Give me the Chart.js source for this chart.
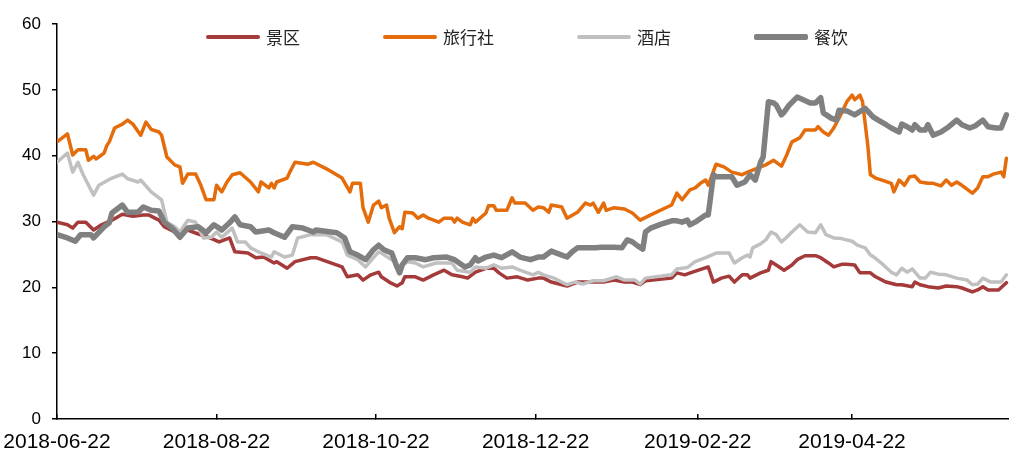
<!DOCTYPE html>
<html>
<head>
<meta charset="utf-8">
<title>景区 旅行社 酒店 餐饮</title>
<script src="https://cdn.jsdelivr.net/npm/chart.js@4"></script>
<style>
    body {
        margin: 0;
        background: #fff;
    }
    .wrap {
        position: relative;
        width: 1009px;
        height: 450px;
    }
    .legend {
        position: absolute;
        left: 206px;
        top: 25px;
        display: flex;
        gap: 83px;
        font-family: 'Noto Sans CJK SC', sans-serif;
        font-size: 17px;
        line-height: 24px;
        color: #222;
    }
    .legend-item {
        display: flex;
        align-items: center;
    }
    .legend-line {
        width: 54px;
        margin-right: 6px;
        border-radius: 2px;
    }
</style>
</head>
<body>
<div class="wrap">
    <canvas id="chart" width="1009" height="450"></canvas>
    <div class="legend" id="legend"></div>
</div>
<script>
// x values are days since startDate
const startDate = '2018-06-22';
const endDay = 364;
const tickDates = ['2018-06-22', '2018-08-22', '2018-10-22', '2018-12-22', '2019-02-22', '2019-04-22'];

const seriesNames = ['景区', '旅行社', '酒店', '餐饮'];
const seriesColors = ['#A53A3B', '#E46C0A', '#C0C0C0', '#808080'];
const seriesWidths = [3.5, 3.5, 3.5, 5.5];

// 景区
const scenicDays = [0, 4, 6, 8, 11, 14, 17, 21, 25, 29, 33, 35, 39, 41, 45, 48, 50, 54, 58, 62,
    66, 68, 73, 76, 79, 83, 84, 88, 91, 97, 99, 109, 111, 115, 117, 120, 123, 124, 127, 130,
    132, 133, 137, 140, 144, 148, 151, 155, 157, 160, 164, 167, 169, 172, 176, 180, 184, 186, 189, 195,
    199, 205, 209, 213, 217, 220, 223, 225, 235, 237, 240, 243, 249, 251, 254, 257, 259, 262, 264, 265,
    269, 272, 273, 275, 278, 281, 283, 286, 290, 292, 295, 297, 300, 302, 305, 307, 311, 313, 317, 321,
    323, 327, 328, 330, 333, 337, 340, 344, 346, 350, 352, 354, 356, 360, 363];
const scenicValues = [29.9, 29.5, 29.0, 29.9, 29.9, 28.7, 29.5, 30.2, 31.1, 30.8, 31.0, 31.0, 30.2, 29.2, 28.4, 28.3, 28.7, 28.1, 27.6, 26.9,
    27.5, 25.4, 25.2, 24.5, 24.6, 23.7, 23.9, 22.9, 23.9, 24.5, 24.5, 23.1, 21.6, 21.9, 21.1, 21.9, 22.3, 21.6, 20.8, 20.2,
    20.7, 21.6, 21.6, 21.1, 21.9, 22.6, 21.9, 21.6, 21.4, 22.3, 22.9, 22.9, 22.2, 21.4, 21.6, 21.1, 21.4, 21.4, 20.8, 20.2,
    20.8, 20.8, 20.8, 21.1, 20.8, 20.8, 20.4, 21.0, 21.4, 22.2, 21.9, 22.3, 23.1, 20.8, 21.4, 21.7, 20.8, 21.9, 21.9, 21.4,
    22.2, 22.6, 23.9, 23.4, 22.6, 23.4, 24.2, 24.8, 24.8, 24.5, 23.7, 23.1, 23.5, 23.5, 23.4, 22.2, 22.2, 21.6, 20.8, 20.4,
    20.4, 20.1, 20.8, 20.4, 20.1, 19.9, 20.2, 20.1, 19.9, 19.3, 19.6, 20.1, 19.6, 19.6, 20.7];

// 旅行社
const travelDays = [0, 4, 6, 8, 11, 12, 14, 15, 18, 19, 20, 22, 25, 27, 29, 32, 34, 36, 39, 40,
    42, 45, 47, 48, 50, 53, 55, 57, 60, 61, 63, 65, 67, 70, 74, 77, 78, 81, 82, 83,
    84, 88, 89, 91, 96, 98, 104, 109, 112, 113, 116, 117, 119, 121, 123, 124, 126, 127, 129, 131,
    132, 133, 136, 138, 140, 142, 146, 148, 151, 152, 153, 155, 158, 159, 160, 164, 165, 167, 168, 172,
    174, 175, 179, 182, 184, 186, 188, 189, 193, 195, 199, 202, 204, 205, 207, 209, 210, 213, 217, 220,
    223, 227, 235, 237, 239, 242, 244, 246, 248, 249, 252, 255, 258, 262, 264, 266, 269, 271, 274, 277,
    279, 281, 284, 286, 290, 291, 293, 295, 297, 299, 300, 302, 304, 305, 307, 308, 310, 311, 313, 316,
    319, 320, 322, 324, 326, 328, 330, 333, 335, 338, 340, 342, 344, 346, 350, 352, 354, 356, 358, 361,
    362, 363];
const travelValues = [42.1, 43.3, 40.1, 40.9, 40.9, 39.3, 39.9, 39.5, 40.4, 41.5, 42.1, 44.2, 44.8, 45.4, 44.8, 43.1, 45.1, 44.0, 43.6, 43.1,
    39.8, 38.6, 38.3, 35.8, 37.2, 37.2, 35.5, 33.3, 33.3, 35.5, 34.5, 36.0, 37.1, 37.4, 36.0, 34.5, 36.0, 35.1, 35.8, 35.1,
    36.0, 36.6, 37.5, 39.0, 38.7, 39.0, 37.8, 36.6, 34.5, 35.8, 35.8, 32.1, 29.9, 32.5, 33.1, 32.1, 32.5, 30.5, 28.3, 29.2,
    28.9, 31.4, 31.3, 30.5, 31.0, 30.5, 29.9, 30.5, 30.5, 29.9, 30.5, 29.9, 29.5, 30.5, 29.9, 31.3, 32.4, 32.4, 31.7, 31.7,
    33.6, 32.8, 32.8, 31.7, 32.2, 32.1, 31.4, 32.5, 32.2, 30.5, 31.4, 32.8, 32.5, 32.8, 31.4, 32.8, 31.7, 32.1, 31.9, 31.3,
    30.2, 31.0, 32.5, 34.3, 33.3, 34.8, 35.1, 35.8, 36.3, 35.5, 38.7, 38.3, 37.5, 37.1, 37.5, 37.8, 38.3, 38.6, 39.3, 38.4,
    40.1, 42.1, 42.7, 43.9, 43.9, 44.4, 43.6, 43.1, 44.2, 45.7, 46.5, 48.2, 49.2, 48.5, 49.2, 48.2, 41.6, 37.1, 36.6, 36.2,
    35.8, 34.5, 36.3, 35.5, 36.8, 36.9, 36.0, 35.8, 35.8, 35.4, 36.3, 35.5, 36.0, 35.5, 34.3, 35.1, 36.8, 36.8, 37.2, 37.5,
    36.8, 39.6];

// 酒店
const hotelDays = [0, 4, 6, 8, 10, 14, 16, 21, 25, 27, 31, 32, 36, 39, 40, 42, 45, 47, 50, 53,
    56, 59, 61, 63, 67, 69, 72, 74, 77, 82, 83, 87, 90, 92, 97, 103, 109, 111, 115, 118,
    121, 123, 124, 129, 130, 134, 137, 140, 145, 151, 153, 158, 160, 164, 167, 170, 174, 177, 182, 184,
    186, 190, 195, 198, 201, 205, 209, 214, 217, 221, 223, 225, 235, 237, 241, 244, 248, 252, 257, 259,
    262, 264, 265, 266, 269, 271, 273, 275, 277, 279, 281, 284, 287, 290, 292, 294, 297, 300, 304, 306,
    309, 311, 312, 316, 319, 321, 323, 325, 327, 330, 332, 334, 337, 340, 344, 348, 350, 352, 354, 357,
    361, 363];
const hotelValues = [39.0, 40.4, 37.5, 39.0, 37.1, 34.0, 35.5, 36.6, 37.2, 36.5, 36.0, 36.3, 34.5, 33.6, 33.3, 29.9, 29.2, 28.4, 30.2, 29.9,
    27.5, 27.6, 28.4, 27.6, 29.0, 26.9, 26.9, 26.0, 25.4, 24.6, 25.4, 24.6, 24.9, 27.5, 28.0, 28.0, 26.9, 24.9, 24.2, 23.1,
    24.5, 25.4, 25.2, 23.9, 22.9, 23.9, 23.7, 23.1, 23.7, 23.7, 22.6, 22.3, 23.1, 22.9, 23.4, 22.9, 23.1, 22.6, 21.9, 22.3,
    21.9, 21.4, 20.4, 20.8, 20.5, 21.0, 21.0, 21.6, 21.1, 21.1, 20.5, 21.4, 21.9, 22.8, 23.0, 23.9, 24.5, 25.2, 25.2, 23.7,
    24.5, 24.9, 24.6, 26.0, 26.6, 27.2, 28.4, 28.0, 26.9, 27.6, 28.4, 29.5, 28.4, 28.3, 29.5, 28.0, 27.5, 27.4, 27.0, 26.4,
    26.0, 24.9, 24.7, 23.4, 22.3, 21.9, 22.9, 22.3, 22.8, 21.4, 21.4, 22.3, 22.0, 21.9, 21.4, 21.1, 20.4, 20.5, 21.4, 20.8,
    20.8, 21.9];

// 餐饮
const cateringDays = [0, 4, 7, 9, 13, 14, 18, 20, 21, 25, 27, 31, 33, 36, 39, 41, 44, 47, 50, 54,
    57, 60, 62, 63, 66, 68, 70, 74, 76, 81, 83, 87, 90, 94, 98, 99, 107, 110, 112, 115,
    118, 121, 123, 125, 128, 130, 131, 132, 134, 137, 141, 144, 149, 152, 156, 158, 160, 161, 164, 167,
    170, 174, 177, 181, 184, 186, 189, 191, 195, 197, 199, 203, 206, 208, 213, 216, 218, 220, 222, 224,
    225, 227, 231, 235, 237, 239, 241, 242, 244, 248, 249, 251, 252, 258, 260, 263, 265, 267, 269, 270,
    272, 274, 275, 277, 278, 280, 283, 288, 290, 292, 293, 296, 298, 299, 302, 305, 309, 312, 314, 317,
    319, 322, 323, 325, 327, 328, 330, 332, 333, 335, 338, 341, 344, 346, 349, 351, 354, 356, 359, 361,
    363];
const cateringValues = [28.0, 27.5, 27.0, 28.0, 28.0, 27.5, 29.2, 29.8, 31.3, 32.5, 31.4, 31.4, 32.2, 31.7, 31.6, 29.9, 29.0, 27.6, 29.0, 29.2,
    28.3, 29.5, 29.0, 28.7, 29.8, 30.7, 29.5, 29.2, 28.4, 28.7, 28.3, 27.6, 29.2, 29.0, 28.4, 28.7, 28.3, 27.5, 25.4, 24.9,
    24.2, 25.7, 26.4, 25.7, 25.2, 23.1, 22.2, 23.4, 24.5, 24.5, 24.2, 24.5, 24.6, 24.2, 23.1, 23.4, 24.5, 24.0, 24.6, 24.9,
    24.5, 25.4, 24.6, 24.2, 24.6, 24.6, 25.5, 25.2, 24.6, 25.4, 26.0, 26.0, 26.0, 26.1, 26.1, 26.0, 27.2, 26.9, 26.3, 25.8,
    28.4, 29.0, 29.6, 30.1, 30.1, 29.9, 30.2, 29.5, 29.9, 31.0, 31.0, 37.1, 36.8, 36.8, 35.5, 36.0, 37.1, 36.3, 39.0, 39.8,
    48.2, 48.0, 47.7, 46.2, 46.6, 47.7, 48.9, 48.0, 48.0, 48.8, 46.5, 45.7, 45.4, 46.9, 46.8, 46.2, 47.2, 45.9, 45.4, 44.7,
    44.2, 43.6, 44.8, 44.4, 43.9, 44.7, 43.9, 43.9, 44.7, 43.1, 43.6, 44.4, 45.4, 44.7, 44.2, 44.5, 45.4, 44.4, 44.2, 44.2,
    46.2];

const yTicks = [0, 10, 20, 30, 40, 50, 60];

function dayOffset(dateStr) {
    return (Date.parse(dateStr) - Date.parse(startDate)) / 86400000;
}

function toPoints(days, values) {
    return days.map((d, i) => ({ x: d, y: values[i] }));
}

const seriesData = [
    toPoints(scenicDays, scenicValues),
    toPoints(travelDays, travelValues),
    toPoints(hotelDays, hotelValues),
    toPoints(cateringDays, cateringValues)
];

const tickMap = {};
tickDates.forEach(d => { tickMap[dayOffset(d)] = d; });

// legend drawn as html so it can sit inside the plot area like the original
const legendEl = document.getElementById('legend');
seriesNames.forEach((name, i) => {
    const item = document.createElement('div');
    item.className = 'legend-item';
    const line = document.createElement('span');
    line.className = 'legend-line';
    line.style.background = seriesColors[i];
    line.style.height = (i === 3 ? 5.5 : 3.5) + 'px';
    const label = document.createElement('span');
    label.textContent = name;
    item.appendChild(line);
    item.appendChild(label);
    legendEl.appendChild(item);
});

new Chart(document.getElementById('chart'), {
    type: 'line',
    data: {
        datasets: seriesNames.map((name, i) => ({
            label: name,
            data: seriesData[i],
            borderColor: seriesColors[i],
            backgroundColor: seriesColors[i],
            borderWidth: seriesWidths[i],
            borderJoinStyle: 'round',
            borderCapStyle: 'round',
            pointRadius: 0,
            tension: 0,
            fill: false,
            order: seriesNames.length - 1 - i
        }))
    },
    options: {
        responsive: false,
        animation: false,
        devicePixelRatio: 1,
        layout: {
            padding: { top: 24, right: 0, bottom: 0, left: 0 }
        },
        plugins: {
            legend: { display: false },
            tooltip: { enabled: false }
        },
        scales: {
            x: {
                type: 'linear',
                min: 0,
                max: endDay,
                afterBuildTicks: scale => {
                    scale.ticks = tickDates.map(d => ({ value: dayOffset(d) }));
                },
                afterFit: scale => {
                    scale.paddingLeft = 0;
                    scale.paddingRight = 0;
                    scale.height = 31;
                },
                ticks: {
                    autoSkip: false,
                    maxRotation: 0,
                    padding: 16,
                    color: '#000',
                    font: { family: "'Liberation Sans', Arial, sans-serif", size: 21 },
                    callback: value => tickMap[value] || ''
                },
                grid: {
                    drawOnChartArea: false,
                    drawTicks: true,
                    tickLength: -5,
                    color: '#000',
                    lineWidth: 1.5
                },
                border: { color: '#000', width: 1.5 }
            },
            y: {
                min: 0,
                max: 60,
                afterBuildTicks: scale => {
                    scale.ticks = yTicks.map(v => ({ value: v }));
                },
                afterFit: scale => {
                    scale.width = 57;
                    scale.paddingTop = 0;
                    scale.paddingBottom = 0;
                },
                ticks: {
                    padding: 11,
                    color: '#000',
                    font: { family: "'Liberation Sans', Arial, sans-serif", size: 17 }
                },
                grid: {
                    drawOnChartArea: false,
                    drawTicks: true,
                    tickLength: 5,
                    color: '#000',
                    lineWidth: 1.5
                },
                border: { color: '#000', width: 1.5 }
            }
        }
    }
});
</script>
</body>
</html>
